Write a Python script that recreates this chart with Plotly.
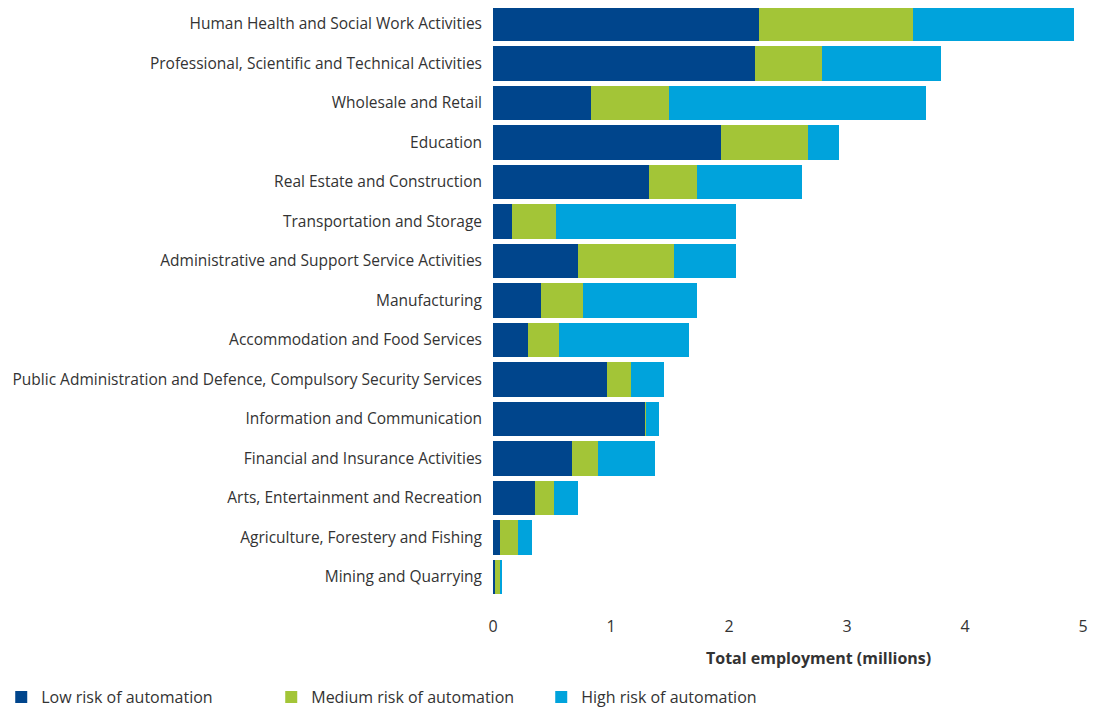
import plotly.graph_objects as go

# 行业类别(从上到下)
sectors = [
    'Human Health and Social Work Activities',
    'Professional, Scientific and Technical Activities',
    'Wholesale and Retail',
    'Education',
    'Real Estate and Construction',
    'Transportation and Storage',
    'Administrative and Support Service Activities',
    'Manufacturing',
    'Accommodation and Food Services',
    'Public Administration and Defence, Compulsory Security Services',
    'Information and Communication',
    'Financial and Insurance Activities',
    'Arts, Entertainment and Recreation',
    'Agriculture, Forestery and Fishing',
    'Mining and Quarrying',
]

# 就业人数(百万)
low_risk = [2.25, 2.22, 0.83, 1.93, 1.32, 0.16, 0.72, 0.41, 0.30, 0.97, 1.29, 0.67, 0.36, 0.06, 0.02]
medium_risk = [1.31, 0.57, 0.66, 0.74, 0.41, 0.37, 0.81, 0.35, 0.26, 0.20, 0.01, 0.22, 0.16, 0.15, 0.04]
high_risk = [1.36, 1.01, 2.18, 0.26, 0.89, 1.53, 0.53, 0.97, 1.10, 0.28, 0.11, 0.48, 0.20, 0.12, 0.02]

x_ticks = [0, 1, 2, 3, 4, 5]

series = [
    ('Low risk of automation', low_risk, '#00458C'),
    ('Medium risk of automation', medium_risk, '#A3C537'),
    ('High risk of automation', high_risk, '#00A3DC'),
]

fig = go.Figure()

for name, values, color in series:
    fig.add_trace(go.Bar(
        name=name,
        y=sectors,
        x=values,
        orientation='h',
        marker=dict(color=color, line=dict(width=0)),
        hovertemplate='%{y}<br>' + name + ': %{x:.2f}m<extra></extra>'
    ))

# 页面body有8px边距, 这里整体补偿
fig.update_layout(
    barmode='stack',
    bargap=0.13,
    width=1090,
    height=703,
    plot_bgcolor='white',
    paper_bgcolor='white',
    font=dict(family='Open Sans, Noto Sans, sans-serif', size=16, color='#333333'),
    margin=dict(l=485, r=15, t=0, b=114, autoexpand=False),
    xaxis=dict(
        range=[0, 5],
        tickvals=x_ticks,
        showgrid=False,
        zeroline=False,
        showline=False,
        ticks='',
        automargin=False,
        ticklabelstandoff=18,
        tickfont=dict(size=16, color='#333333'),
    ),
    yaxis=dict(
        range=[14.506, -0.405],
        showgrid=False,
        zeroline=False,
        showline=False,
        ticks='',
        automargin=False,
        ticklabelstandoff=10,
        tickfont=dict(size=15.5, color='#333333'),
    ),
    showlegend=True,
    legend=dict(
        orientation='h',
        traceorder='normal',
        x=-0.8335,
        xanchor='left',
        y=-0.170,
        yanchor='middle',
        entrywidth=225,
        font=dict(size=16, color='#333333'),
    ),
)

# x轴标题
fig.add_annotation(
    text='<b>Total employment (millions)</b>',
    xref='paper', yref='paper',
    x=0.551, y=-0.104,
    showarrow=False,
    xanchor='center', yanchor='middle',
    font=dict(size=16, color='#333333'),
)

fig.write_html('out.html')
